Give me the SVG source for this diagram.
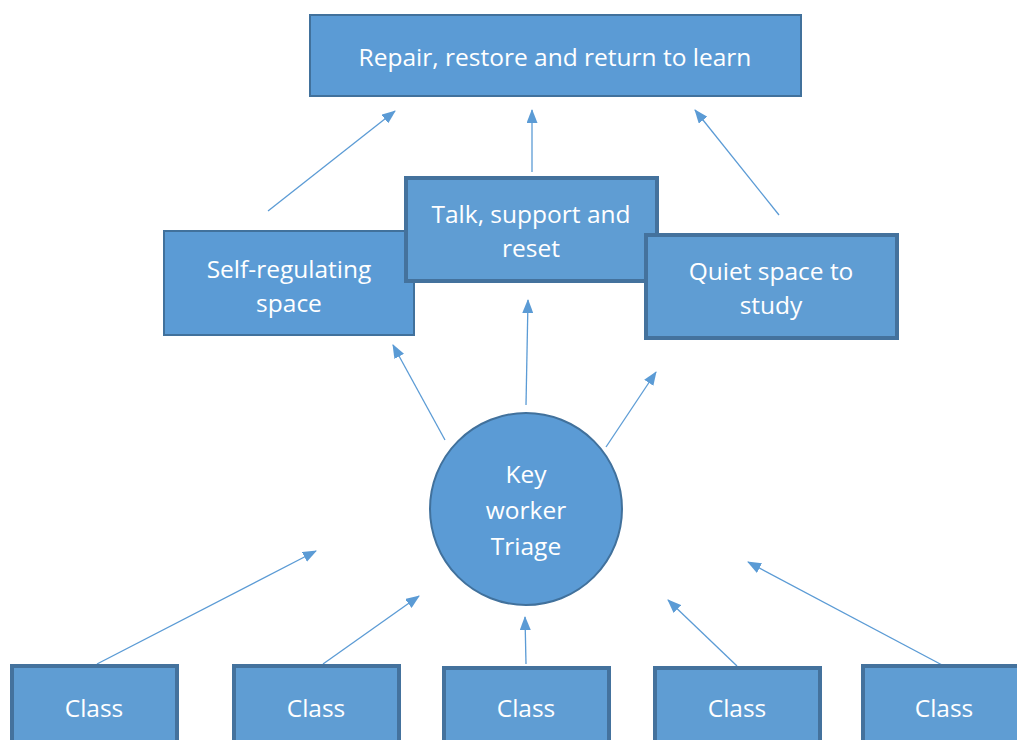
<svg xmlns="http://www.w3.org/2000/svg" width="1017" height="740" viewBox="0 0 1017 740">
<defs>
<marker id="ah" markerWidth="14" markerHeight="11" refX="13" refY="5.5" orient="auto" markerUnits="userSpaceOnUse" viewBox="0 0 14 11">
<path d="M0,0 L14,5.5 L0,11 z" fill="#5b9bd5"/>
</marker>
<style>
.box{fill:#5b9bd5;stroke:#41719c;stroke-width:2}
.box2{fill:#5f9dd3;stroke:#44729d;stroke-width:4}
.lbl{font-family:"Open Sans","Noto Sans",sans-serif;font-size:24.5px;fill:#ffffff;text-anchor:middle;dominant-baseline:central}
.con{stroke:#5b9bd5;stroke-width:1.3;fill:none;marker-end:url(#ah)}
</style>
</defs>
<rect width="1017" height="740" fill="#ffffff"/>
<g id="connectors">
<line class="con" x1="268" y1="211" x2="395" y2="111"/>
<line class="con" x1="532" y1="172" x2="532" y2="110"/>
<line class="con" x1="779" y1="215" x2="695" y2="110"/>
<line class="con" x1="445" y1="440" x2="393" y2="345"/>
<line class="con" x1="526" y1="405" x2="528" y2="300"/>
<line class="con" x1="606" y1="447" x2="656" y2="372"/>
<line class="con" x1="97" y1="664" x2="316" y2="551"/>
<line class="con" x1="323" y1="664" x2="419" y2="596"/>
<line class="con" x1="526" y1="664" x2="525" y2="617"/>
<line class="con" x1="737" y1="666" x2="668" y2="600"/>
<line class="con" x1="944" y1="666" x2="748" y2="562"/>
</g>
<g id="repair">
<rect class="box" x="310" y="15" width="491" height="81"/>
<text class="lbl" x="555" y="56">Repair, restore and return to learn</text>
</g>
<g id="selfreg">
<rect class="box" x="164" y="231" width="250" height="104"/>
<text class="lbl" x="289" y="268">Self-regulating</text>
<text class="lbl" x="289" y="302">space</text>
</g>
<g id="talk">
<rect class="box2" x="406" y="178" width="251" height="103"/>
<text class="lbl" x="531" y="213">Talk, support and</text>
<text class="lbl" x="531" y="247">reset</text>
</g>
<g id="quiet">
<rect class="box2" x="646" y="235" width="251" height="103"/>
<text class="lbl" x="771" y="270">Quiet space to</text>
<text class="lbl" x="771" y="304">study</text>
</g>
<g id="keyworker">
<circle cx="526" cy="509" r="96" fill="#5b9bd5" stroke="#41719c" stroke-width="2"/>
<text class="lbl" x="526" y="473">Key</text>
<text class="lbl" x="526" y="509">worker</text>
<text class="lbl" x="526" y="545">Triage</text>
</g>
<g id="class1">
<rect class="box2" x="12" y="666" width="165" height="80"/>
<text class="lbl" x="94" y="707">Class</text>
</g>
<g id="class2">
<rect class="box2" x="234" y="666" width="165" height="80"/>
<text class="lbl" x="316" y="707">Class</text>
</g>
<g id="class3">
<rect class="box2" x="444" y="668" width="165" height="80"/>
<text class="lbl" x="526" y="707">Class</text>
</g>
<g id="class4">
<rect class="box2" x="655" y="668" width="165" height="80"/>
<text class="lbl" x="737" y="707">Class</text>
</g>
<g id="class5">
<rect class="box2" x="863" y="666" width="165" height="80"/>
<text class="lbl" x="944" y="707">Class</text>
</g>
</svg>
